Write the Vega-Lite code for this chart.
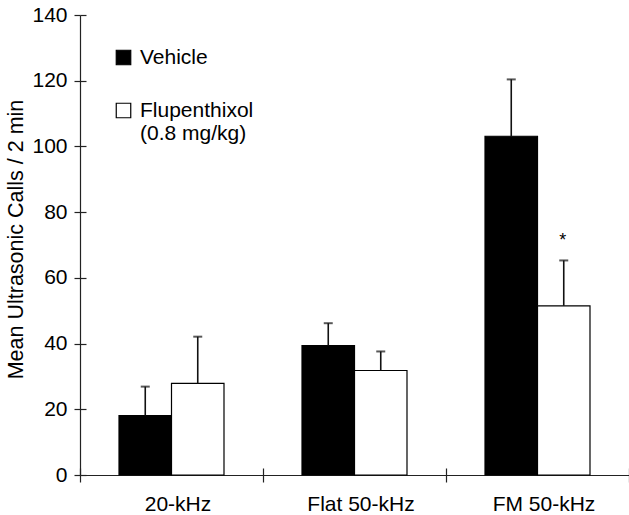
{
  "$schema": "https://vega.github.io/schema/vega-lite/v6.json",
  "width": 549,
  "height": 460,
  "autosize": {"type": "none"},
  "padding": {"left": 80, "top": 15, "right": 0, "bottom": 40},
  "background": "white",
  "config": {
    "view": {"stroke": null},
    "font": "Liberation Sans",
    "axis": {
      "grid": false,
      "domainColor": "#222",
      "domainWidth": 1.2,
      "tickColor": "#222",
      "tickWidth": 1.2,
      "labelColor": "black",
      "labelFont": "Liberation Sans",
      "labelFontSize": 21,
      "titleFont": "Liberation Sans",
      "titleFontSize": 21.5,
      "titleFontWeight": "normal",
      "titleColor": "black"
    }
  },
  "data": {
    "values": [
      {"call": "20-kHz", "treatment": "Vehicle", "mean": 18.1, "upper": 26.9, "sig": ""},
      {"call": "20-kHz", "treatment": "Flupenthixol (0.8 mg/kg)", "mean": 27.9, "upper": 42.1, "sig": ""},
      {"call": "Flat 50-kHz", "treatment": "Vehicle", "mean": 39.4, "upper": 46.2, "sig": ""},
      {"call": "Flat 50-kHz", "treatment": "Flupenthixol (0.8 mg/kg)", "mean": 31.8, "upper": 37.6, "sig": ""},
      {"call": "FM 50-kHz", "treatment": "Vehicle", "mean": 103.1, "upper": 120.4, "sig": ""},
      {"call": "FM 50-kHz", "treatment": "Flupenthixol (0.8 mg/kg)", "mean": 51.5, "upper": 65.3, "sig": "*"}
    ]
  },
  "encoding": {
    "x": {
      "field": "call",
      "type": "nominal",
      "sort": ["20-kHz", "Flat 50-kHz", "FM 50-kHz"],
      "scale": {"paddingInner": 0, "paddingOuter": 0},
      "axis": null
    },
    "xOffset": {
      "field": "treatment",
      "type": "nominal",
      "sort": ["Vehicle", "Flupenthixol (0.8 mg/kg)"],
      "scale": {"paddingInner": 0, "paddingOuter": 0.743}
    }
  },
  "layer": [
    {
      "mark": {"type": "bar", "stroke": "black", "strokeWidth": 1.2},
      "encoding": {
        "x": {
          "field": "call",
          "type": "nominal",
          "sort": ["20-kHz", "Flat 50-kHz", "FM 50-kHz"],
          "scale": {"paddingInner": 0, "paddingOuter": 0},
          "axis": {
            "title": null,
            "orient": "bottom",
            "labelAngle": 0,
            "tickBand": "extent",
            "tickSize": 7,
            "labelPadding": 11,
            "labelOffset": 6
          }
        },
        "y": {
          "field": "mean",
          "type": "quantitative",
          "scale": {"domain": [0, 140], "nice": false},
          "axis": {
            "title": "Mean Ultrasonic Calls / 2 min",
            "orient": "left",
            "values": [0, 20, 40, 60, 80, 100, 120, 140],
            "tickSize": 6,
            "labelPadding": 7,
            "titlePadding": 4,
            "titleY": 224
          }
        },
        "color": {
          "field": "treatment",
          "type": "nominal",
          "scale": {
            "domain": ["Vehicle", "Flupenthixol (0.8 mg/kg)"],
            "range": ["black", "white"]
          },
          "legend": {
            "title": null,
            "orient": "none",
            "legendX": 33,
            "legendY": 32,
            "padding": 0,
            "symbolType": "square",
            "symbolSize": 210,
            "symbolStrokeColor": "black",
            "symbolStrokeWidth": 1.2,
            "labelFont": "Liberation Sans",
            "labelFontSize": 21,
            "labelColor": "black",
            "labelOffset": 6,
            "labelLimit": 300,
            "rowPadding": 31,
            "labelExpr": "datum.label == 'Flupenthixol (0.8 mg/kg)' ? ['Flupenthixol', '(0.8 mg/kg)'] : datum.label"
          }
        }
      }
    },
    {
      "mark": {"type": "rule", "color": "#111", "strokeWidth": 1.6},
      "encoding": {
        "x": {
          "field": "call",
          "type": "nominal",
          "sort": ["20-kHz", "Flat 50-kHz", "FM 50-kHz"],
          "scale": {"paddingInner": 0, "paddingOuter": 0},
          "axis": {
            "title": null,
            "orient": "bottom",
            "labels": false,
            "domain": false,
            "tickBand": "extent",
            "tickSize": -7
          }
        },
        "y": {
          "field": "mean",
          "type": "quantitative",
          "axis": {
            "title": null,
            "orient": "left",
            "labels": false,
            "domain": false,
            "values": [0, 20, 40, 60, 80, 100, 120, 140],
            "tickSize": -6
          }
        },
        "y2": {"field": "upper"}
      }
    },
    {
      "mark": {"type": "tick", "color": "#111", "thickness": 2, "size": 9},
      "encoding": {
        "y": {"field": "upper", "type": "quantitative", "axis": null}
      }
    },
    {
      "transform": [{"filter": "datum.sig != ''"}],
      "mark": {"type": "text", "fontSize": 18, "font": "Liberation Sans", "color": "black", "baseline": "alphabetic", "dy": -14, "dx": -1},
      "encoding": {
        "y": {"field": "upper", "type": "quantitative", "axis": null},
        "text": {"field": "sig"}
      }
    }
  ],
  "resolve": {"axis": {"x": "independent", "y": "independent"}}
}
